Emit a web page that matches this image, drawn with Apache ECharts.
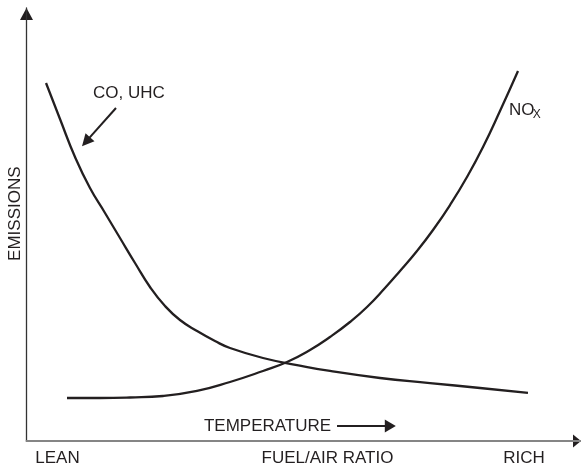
<!DOCTYPE html>
<html><head><meta charset="utf-8">
<script src="https://cdn.jsdelivr.net/npm/echarts@6/dist/echarts.min.js"></script>
<style>html,body{margin:0;padding:0;background:#fff}#c{width:581px;height:466px}</style>
</head><body><div id="c"></div>
<script>
// Data (x: fuel/air ratio 0..100 lean->rich, y: emissions 0..100)
const coX  = [3.52, 6.04, 8.75, 11.45, 14.16, 16.86, 19.57, 22.27, 24.98, 27.68, 30.75, 33.99, 36.70, 42.65, 48.78, 54.73, 63.75, 72.77, 81.79, 90.44];
const coY  = [82.68, 74.36, 65.59, 58.43, 52.66, 46.88, 41.11, 35.57, 31.18, 27.94, 25.40, 23.09, 21.48, 19.17, 17.55, 16.17, 14.55, 13.39, 12.24, 11.09];
const noxX = [7.30, 13.26, 18.67, 24.62, 30.75, 36.70, 42.65, 46.98, 51.13, 54.73, 58.34, 61.41, 64.65, 67.36, 70.42, 73.31, 76.38, 79.44, 82.33, 85.39, 88.64];
const noxY = [9.93, 9.93, 10.05, 10.39, 11.55, 13.63, 16.17, 18.24, 21.02, 24.02, 27.48, 30.95, 35.33, 39.26, 43.88, 48.73, 54.50, 60.97, 67.90, 76.21, 85.45];
const xLabels = ['LEAN', 'FUEL/AIR RATIO', 'RICH'];
const yLabel = 'EMISSIONS';
const coLabel = 'CO, UHC';
const tempLabel = 'TEMPERATURE';

// Layout of annotations (in data coordinates)
const layout = {
  xLabelX: [5.59, 54.28, 89.72], xLabelY: -3.93,
  yLabelPos: [-2.07, 52.5],
  coLabelPos: [11.99, 80.4],
  coArrow: [[16.14, 76.9], [10.01, 68.1]],
  noxPos: [87.0, 76.4], noxSubPos: [91.3, 75.3],
  tempPos: [32.0, 3.46],
  tempArrow: [[56.0, 3.46], [66.6, 3.46]]
};

const FONT = '"Liberation Sans", Arial, Helvetica, sans-serif';
const FS = 17;
const INK = '#231f20';

const chart = echarts.init(document.getElementById('c'), null, {renderer: 'canvas'});
const zip = (a, b) => a.map((v, i) => [v, b[i]]);
chart.setOption({
  animation: false,
  grid: {left: 26.5, right: 0, top: 8, bottom: 25},
  xAxis: {type: 'value', min: 0, max: 100,
    axisLine: {show: true, lineStyle: {color: '#858585', width: 2}},
    axisTick: {show: false}, axisLabel: {show: false}, splitLine: {show: false}},
  yAxis: {type: 'value', min: 0, max: 100,
    axisLine: {show: true, lineStyle: {color: '#333', width: 1.3}},
    axisTick: {show: false}, axisLabel: {show: false}, splitLine: {show: false}},
  series: [
    {type: 'line', data: zip(coX, coY), smooth: 0.5, symbol: 'none', silent: true,
      lineStyle: {color: INK, width: 2.3}},
    {type: 'line', data: zip(noxX, noxY), smooth: 0.5, symbol: 'none', silent: true,
      lineStyle: {color: INK, width: 2.3}}
  ]
});

const P = (p) => chart.convertToPixel({gridIndex: 0}, p);
function arrowHead(tip, from, L, W) {
  const dx = tip[0] - from[0], dy = tip[1] - from[1];
  const d = Math.hypot(dx, dy), ux = dx / d, uy = dy / d;
  const bx = tip[0] - ux * L, by = tip[1] - uy * L;
  const nx = -uy, ny = ux;
  return {type: 'polygon', silent: true, shape: {points: [tip, [bx + nx * W / 2, by + ny * W / 2], [bx - nx * W / 2, by - ny * W / 2]]}, style: {fill: INK}};
}
function arrow(a, b, L, W, lw) {
  const pa = P(a), pb = P(b);
  const dx = pb[0] - pa[0], dy = pb[1] - pa[1], d = Math.hypot(dx, dy);
  const end = [pb[0] - dx / d * (L - 1), pb[1] - dy / d * (L - 1)];
  return [
    {type: 'line', silent: true, shape: {x1: pa[0], y1: pa[1], x2: end[0], y2: end[1]}, style: {stroke: INK, lineWidth: lw}},
    arrowHead(pb, pa, L, W)
  ];
}
function txt(p, s, align, size, extra) {
  return Object.assign({type: 'text', silent: true, x: p[0], y: p[1],
    style: {text: s, font: size + 'px ' + FONT, fill: INK, align: align, verticalAlign: 'middle'}}, extra || {});
}

const g = [];
// axis arrowheads
const xEnd = P([100, 0]), xStart = P([0, 0]);
g.push(arrowHead(xEnd, xStart, 8, 13));
const yEnd = P([0, 100]);
g.push(arrowHead(yEnd, xStart, 12, 13));
// x labels
xLabels.forEach((s, i) => g.push(txt(P([layout.xLabelX[i], layout.xLabelY]), s, 'center', FS)));
// y label
g.push(txt(P(layout.yLabelPos), yLabel, 'center', FS, {rotation: Math.PI / 2}));
// CO label and arrow
g.push(txt(P(layout.coLabelPos), coLabel, 'left', FS));
arrow(layout.coArrow[0], layout.coArrow[1], 12, 12, 2).forEach(e => g.push(e));
// NOx label
g.push(txt(P(layout.noxPos), 'NO', 'left', FS));
g.push(txt(P(layout.noxSubPos), 'X', 'left', 12));
// temperature
g.push(txt(P(layout.tempPos), tempLabel, 'left', FS));
arrow(layout.tempArrow[0], layout.tempArrow[1], 11, 13, 2).forEach(e => g.push(e));

chart.setOption({graphic: g});
</script>
</body></html>
